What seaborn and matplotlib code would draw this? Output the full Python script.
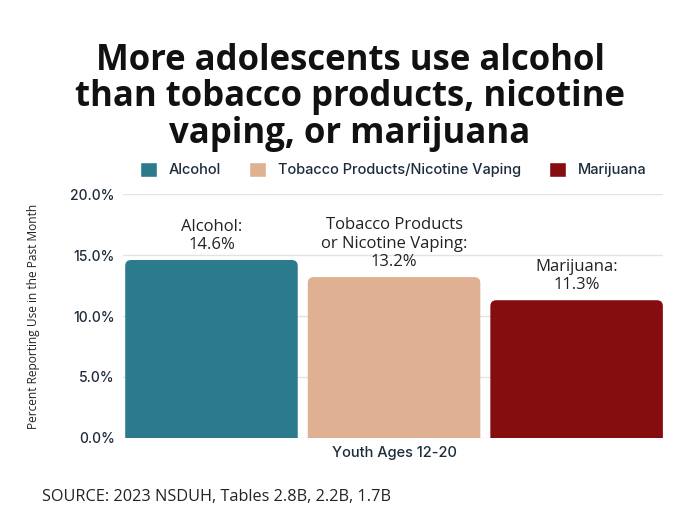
import matplotlib
matplotlib.use("Agg")
import matplotlib.pyplot as plt
import seaborn as sns
import pandas as pd
from matplotlib.patches import FancyBboxPatch

categories = ["Alcohol", "Tobacco Products/Nicotine Vaping", "Marijuana"]
values = [14.6, 13.2, 11.3]
bar_labels = ["Alcohol:\n14.6%", "Tobacco Products\nor Nicotine Vaping:\n13.2%", "Marijuana:\n11.3%"]
group = "Youth Ages 12-20"
colors = ["#2b7b8c", "#e0b092", "#850d0f"]
yticks = [0, 5, 10, 15, 20]

df = pd.DataFrame({"group": [group] * 3, "category": categories, "value": values})

sns.set_theme(style="white")
plt.rcParams['font.family'] = ['Open Sans', 'DejaVu Sans']
ui_font = ["Inter", "DejaVu Sans"]
navy = "#1d2b3c"

fig = plt.figure(figsize=(7, 5.25), dpi=100)
ax = fig.add_axes([0.176, 0.166, 0.771, 0.464])

sns.barplot(data=df, x="group", y="value", hue="category", hue_order=categories,
            palette=colors, gap=0.055, width=0.8, ax=ax, saturation=1, legend=True)

ax.set_ylim(0, 20)
ax.set_xlim(-0.3956, 0.3927)
ax.set_yticks(yticks)
ax.set_yticklabels([f"{t:.1f}%" for t in yticks], fontsize=10, color=navy, family=ui_font,
                   fontweight="medium")
for lab in ax.get_xticklabels():
    lab.set_fontsize(10.5)
    lab.set_color(navy)
    lab.set_family(ui_font)
    lab.set_fontweight("medium")
ax.tick_params(axis="both", length=0, pad=6)
ax.set_xlabel("")
ax.set_ylabel("Percent Reporting Use in the Past Month", fontsize=8.6, color="#222222", labelpad=22)
for s in ax.spines.values():
    s.set_visible(False)
ax.yaxis.grid(True, color="#e3e3e3", linewidth=1)
ax.set_axisbelow(True)

# rounded top corners
fig.canvas.draw()
px_x = ax.transData.transform((1, 0))[0] - ax.transData.transform((0, 0))[0]
px_y = ax.transData.transform((0, 1))[1] - ax.transData.transform((0, 0))[1]
r_px = 6
r_x = r_px / px_x
aspect = px_x / px_y
bars = list(ax.patches)[:3]
for b, col in zip(bars, colors):
    x, w, h = b.get_x(), b.get_width(), b.get_height()
    b.set_visible(False)
    fb = FancyBboxPatch((x, -1.5), w, h + 1.5,
                        boxstyle=f"round,pad=0,rounding_size={r_x}",
                        mutation_aspect=aspect, facecolor=col, edgecolor="none",
                        clip_on=True, zorder=2)
    ax.add_patch(fb)

for b, lab in zip(bars, bar_labels):
    ax.annotate(lab, (b.get_x() + b.get_width() / 2, b.get_height()),
                xytext=(0, 5), textcoords="offset points", ha="center", va="bottom",
                fontsize=12, color="#222222", linespacing=1.2)

leg = ax.legend(loc="lower center", bbox_to_anchor=(0.5, 1.015), ncol=3, frameon=False,
                handlelength=1.2, handleheight=1.2, columnspacing=1.9, handletextpad=0.8,
                prop={"family": ui_font, "size": 10.5, "weight": "medium"})
for t in leg.get_texts():
    t.set_color(navy)

fig.text(0.5, 0.815, "More adolescents use alcohol\nthan tobacco products, nicotine\nvaping, or marijuana",
         ha="center", va="center", fontsize=25, fontweight="bold", color="#111111",
         linespacing=1.02)
fig.text(0.06, 0.045, "SOURCE: 2023 NSDUH, Tables 2.8B, 2.2B, 1.7B", fontsize=11.7, color="#222222")

fig.savefig("out.png", dpi=100)
